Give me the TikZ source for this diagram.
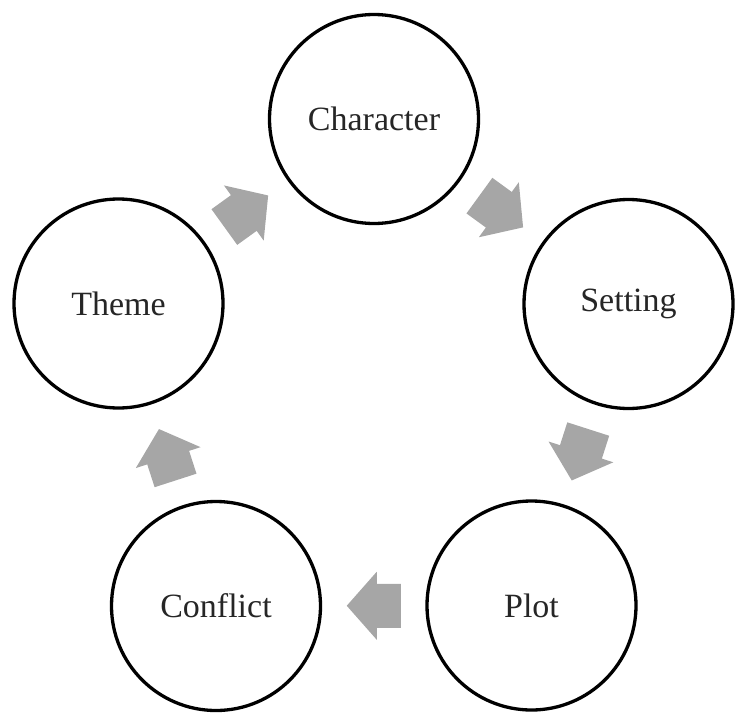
\documentclass[tikz,border=0pt]{standalone}
\usepackage{fontspec}
\setmainfont{Liberation Serif}
\usetikzlibrary{calc}
\definecolor{arrowgray}{HTML}{A6A6A6}
\definecolor{textcol}{HTML}{262626}
\tikzset{
  stage/.style={circle, draw=black, line width=3.3pt, minimum size=209pt, inner sep=0pt,
    font=\fontsize{34}{40}\selectfont, text=textcol},
  blockarrow/.style={fill=arrowgray, draw=none}
}
\newcommand{\blockarr}[2]{%
  \fill[blockarrow, shift={(#1)}, rotate=#2]
    (-27pt,-22pt) -- (-3pt,-22pt) -- (-3pt,-34pt) -- (27pt,0pt) -- (-3pt,34pt) -- (-3pt,22pt) -- (-27pt,22pt) -- cycle;}
\begin{document}
\begin{tikzpicture}[x=1pt,y=-1pt]
\useasboundingbox (0,0) rectangle (736,715);
\node[stage] (char) at (374,119) {Character};
\node[stage] (set) at (628.5,304) {Setting};
\node[stage] (plot) at (531.5,605.5) {Plot};
\node[stage] (conf) at (216,606) {Conflict};
\node[stage] (theme) at (118.5,303.5) {Theme};
\coordinate (a1) at ($(theme.center)!0.5!(char.center)$);
\coordinate (a2) at ($(char.center)!0.5!(set.center)$);
\coordinate (a3) at ($(set.center)!0.5!(plot.center)$);
\coordinate (a4) at ($(plot.center)!0.5!(conf.center)$);
\coordinate (a5) at ($(conf.center)!0.5!(theme.center)$);
\blockarr{a1}{35.8}
\blockarr{a2}{-36}
\blockarr{a3}{-107.8}
\blockarr{a4}{180}
\blockarr{a5}{107.9}
\end{tikzpicture}
\end{document}
